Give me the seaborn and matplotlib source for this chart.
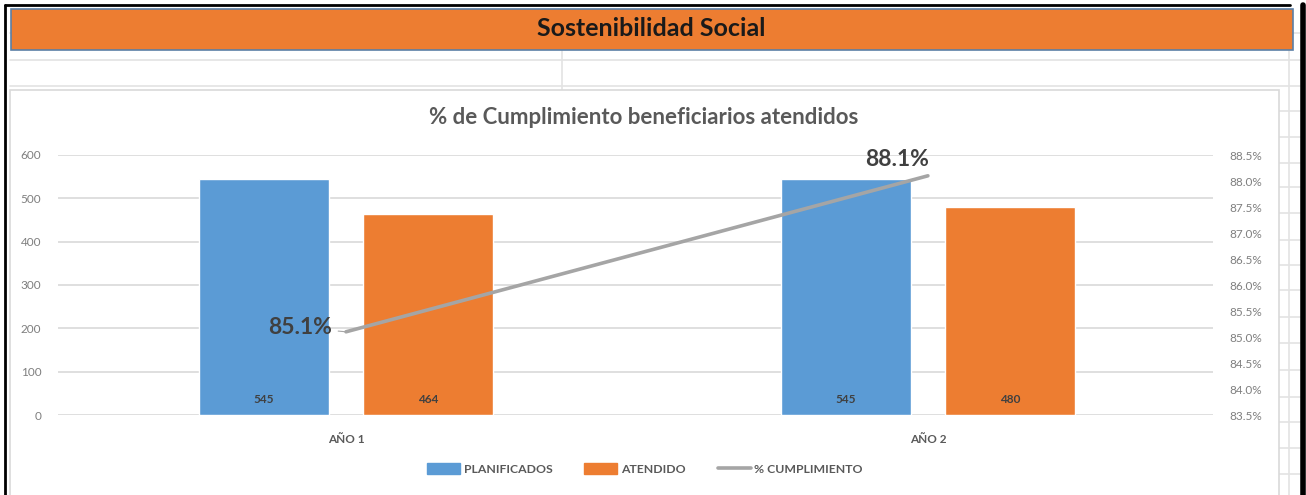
import matplotlib
matplotlib.use("Agg")
import matplotlib.pyplot as plt
import matplotlib.patches as mpatches
from matplotlib.lines import Line2D
import seaborn as sns
import pandas as pd

# ── Data ──────────────────────────────────────────────────────────────────────
anios        = ["AÑO 1", "AÑO 2"]
planificados = [545, 545]
atendidos    = [464, 480]
cumplimiento = [85.1, 88.1]   # % atendido / planificado

series_names = ["PLANIFICADOS", "ATENDIDO"]
linea_name   = "% CUMPLIMIENTO"

BLUE   = "#5B9BD5"
ORANGE = "#ED7D31"
GRAY   = "#A5A5A5"
TXT    = "#595959"
DARK   = "#404040"

df = pd.DataFrame({
    "anio":  anios * 2,
    "serie": [series_names[0]] * 2 + [series_names[1]] * 2,
    "valor": planificados + atendidos,
})

# ── Figure ────────────────────────────────────────────────────────────────────
sns.set_theme(style="white")
plt.rcParams["font.family"] = ["Lato", "DejaVu Sans"]

W, H = 1306, 495
fig = plt.figure(figsize=(W / 100, H / 100), dpi=100)
fig.patch.set_facecolor("white")


def fx(px):
    return px / W


def fy(py):
    return 1 - py / H


# spreadsheet background: cell lines, frame, header band
for y in [33, 60, 86]:
    fig.add_artist(Line2D([fx(10), fx(1300)], [fy(y), fy(y)], color="#E3E3E3", lw=1.2, zorder=-3))
for y in [111, 137, 163, 187, 213, 240, 265, 290, 317, 343, 370, 397, 422, 448, 474]:
    fig.add_artist(Line2D([fx(1279), fx(1300)], [fy(y), fy(y)], color="#E3E3E3", lw=1.2, zorder=-3))
fig.add_artist(Line2D([fx(562), fx(562)], [fy(50), fy(90)], color="#E3E3E3", lw=1.2, zorder=-3))
fig.add_artist(Line2D([fx(1289), fx(1289)], [fy(50), fy(495)], color="#E3E3E3", lw=1.2, zorder=-3))

fig.add_artist(Line2D([fx(5), fx(1290)], [fy(5), fy(5)], color="black", lw=2))
fig.add_artist(Line2D([fx(5), fx(5)], [fy(5), fy(495)], color="black", lw=2))
fig.add_artist(Line2D([fx(1303), fx(1303)], [fy(5), fy(495)], color="black", lw=4))

fig.add_artist(mpatches.Rectangle((fx(11), fy(50)), fx(1282), 41 / H,
                                  facecolor=ORANGE, edgecolor="#5B7FA6", lw=1.2, zorder=3))
fig.text(fx(651), fy(29), "Sostenibilidad Social", ha="center", va="center",
         fontsize=18, fontweight="bold", color="#1A1A1A", zorder=4)

# chart area border
fig.add_artist(mpatches.Rectangle((fx(10), fy(497)), fx(1269), 407 / H,
                                  facecolor="white", edgecolor="#D9D9D9", lw=1.2, zorder=-1))

fig.text(fx(644), fy(118), "% de Cumplimiento beneficiarios atendidos",
         ha="center", va="center", fontsize=16, fontweight="bold", color=TXT)

# ── Bars ──────────────────────────────────────────────────────────────────────
ax = fig.add_axes([fx(58), fy(415), fx(1213 - 58), (415 - 155) / H])
ax.patch.set_alpha(0)
sns.barplot(data=df, x="anio", y="valor", hue="serie", order=anios,
            hue_order=series_names, palette=[BLUE, ORANGE],
            width=0.566, gap=0.21, saturation=1, legend=False, ax=ax)

# value labels sit at the base of each bar
for cont in ax.containers:
    for bar, v in zip(cont.patches, cont.datavalues):
        ax.annotate(f"{v:.0f}", xy=(bar.get_x() + bar.get_width() / 2, 0),
                    xytext=(0, 11), textcoords="offset points",
                    ha="center", va="center", fontsize=8.5,
                    fontweight="bold", color=DARK)

ax.set_ylim(0, 600)
ax.set_yticks(range(0, 601, 100))
ax.yaxis.grid(True, color="#D9D9D9", lw=1.2)
ax.set_axisbelow(True)
ax.set_xlabel("")
ax.set_ylabel("")
ax.tick_params(axis="y", length=0, pad=12, labelsize=8.5, labelcolor="#7F7F7F")
ax.tick_params(axis="x", length=0, pad=14, labelsize=8.5, labelcolor=TXT)
for lab in ax.get_xticklabels():
    lab.set_fontweight("bold")
for s in ax.spines.values():
    s.set_visible(False)

# ── Line (secondary axis) ─────────────────────────────────────────────────────
ax2 = ax.twinx()
sns.pointplot(x=anios, y=cumplimiento, ax=ax2, color=GRAY, markers="",
              linewidth=2.6)
ax2.set_ylim(83.5, 88.5)
ax2.set_yticks([83.5 + 0.5 * i for i in range(11)])
ax2.set_yticklabels([f"{83.5 + 0.5 * i:.1f}%" for i in range(11)])
ax2.tick_params(axis="y", length=0, pad=12, labelsize=8.5, labelcolor="#7F7F7F")
ax2.set_ylabel("")
ax2.grid(False)
for s in ax2.spines.values():
    s.set_visible(False)
ax.set_xlim(-0.495, 1.49)

ax2.annotate(f"{cumplimiento[0]:.1f}%", xy=(0, cumplimiento[0]),
             xytext=(-10, 3), textcoords="offset points", ha="right", va="center",
             fontsize=16.5, fontweight="bold", color=DARK,
             arrowprops=dict(arrowstyle="-", color=GRAY, lw=0.8, shrinkA=2, shrinkB=0))
ax2.annotate(f"{cumplimiento[1]:.1f}%", xy=(1, cumplimiento[1]),
             xytext=(-22, 4), textcoords="offset points", ha="center", va="bottom",
             fontsize=16.5, fontweight="bold", color=DARK)

# ── Legend ────────────────────────────────────────────────────────────────────
handles = [
    mpatches.Patch(color=BLUE, label=series_names[0]),
    mpatches.Patch(color=ORANGE, label=series_names[1]),
    Line2D([], [], color=GRAY, lw=2.6, label=linea_name),
]
leg = fig.legend(handles=handles, loc="center", bbox_to_anchor=(fx(645), fy(469)),
                 ncol=3, frameon=False, fontsize=8.8, handlelength=2.7,
                 handleheight=0.9, columnspacing=2.6, handletextpad=0.3)
for t in leg.get_texts():
    t.set_color(TXT)
    t.set_fontweight("bold")

fig.savefig("out.png", dpi=100, facecolor="white")
